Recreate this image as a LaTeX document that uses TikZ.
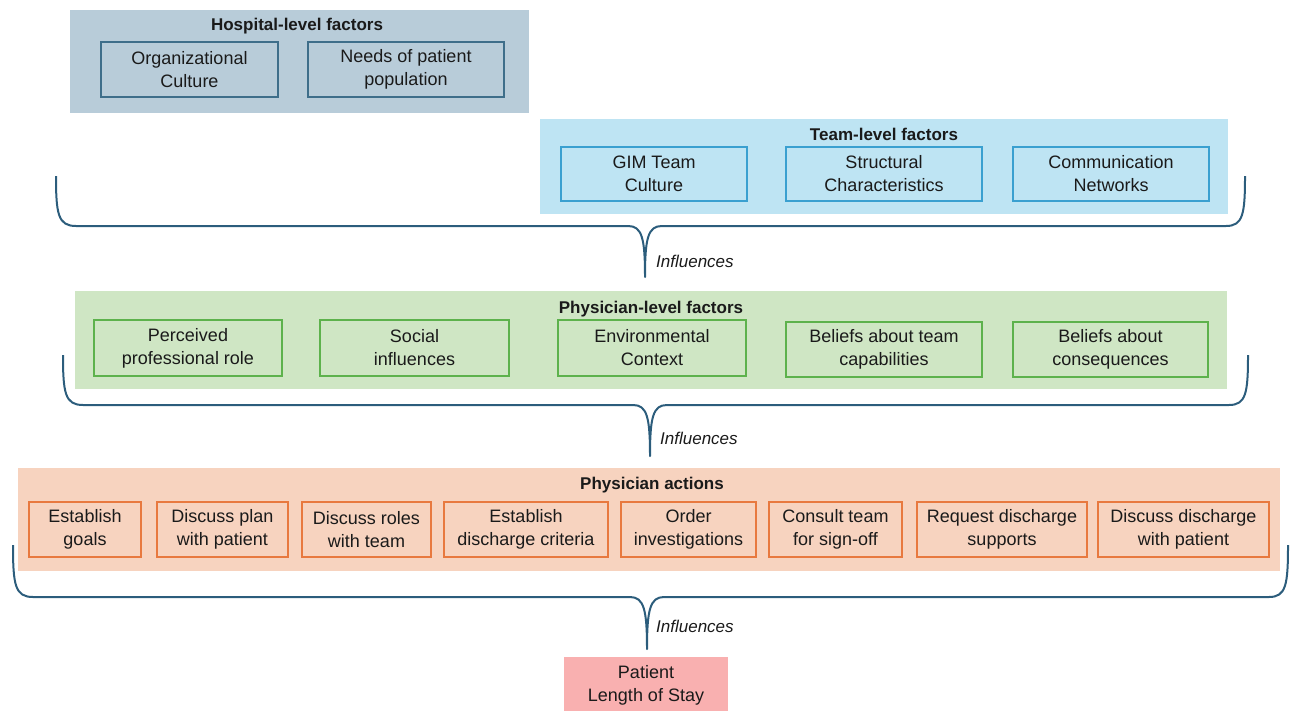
\documentclass[tikz,border=0pt]{standalone}
\usepackage{fontspec}
\setmainfont{Liberation Sans}
\definecolor{hosfill}{HTML}{B8CCD9}
\definecolor{hosline}{HTML}{3E6E8A}
\definecolor{teamfill}{HTML}{BEE4F3}
\definecolor{teamline}{HTML}{3AA0D0}
\definecolor{phyfill}{HTML}{CFE6C4}
\definecolor{phyline}{HTML}{5DB24C}
\definecolor{actfill}{HTML}{F7D3BF}
\definecolor{actline}{HTML}{E8793F}
\definecolor{losfill}{HTML}{F9B0B0}
\definecolor{bracecol}{HTML}{2C5D7C}
\definecolor{txt}{HTML}{1A1A1A}
\begin{document}
\begin{tikzpicture}[x=1pt,y=-1pt,
  every node/.style={text=txt},
  panel/.style={draw=none,inner sep=0pt},
  item/.style={draw,line width=1.2pt,inner sep=0pt,align=center,font=\fontsize{18}{23}\selectfont},
  ttl/.style={font=\fontsize{17}{20}\selectfont\bfseries,inner sep=0pt},
  infl/.style={font=\fontsize{17}{20}\selectfont\itshape,inner sep=0pt,anchor=west},
  brace/.style={draw=bracecol,line width=2pt,line join=round}]
\useasboundingbox (0,0) rectangle (1290,710);
% Hospital-level
\node[panel,fill=hosfill,minimum width=459,minimum height=103] (hos) at (299.5,61.5) {};
\node[ttl] (hosT) at (297,26) {Hospital-level factors};
\node[item,draw=hosline,minimum width=177,minimum height=55] (oc) at (189.5,69.5) {Organizational\\Culture};
\node[item,draw=hosline,minimum width=196,minimum height=55] (np) at (406,69.5) {Needs of patient\\population};
% Team-level
\node[panel,fill=teamfill,minimum width=688,minimum height=95] (team) at (884,166.5) {};
\node[ttl] (teamT) at (884,134) {Team-level factors};
\node[item,draw=teamline,minimum width=186,minimum height=54] (gim) at (654,174) {GIM Team\\Culture};
\node[item,draw=teamline,minimum width=196,minimum height=54] (sc) at (884,174) {Structural\\Characteristics};
\node[item,draw=teamline,minimum width=196,minimum height=54] (cn) at (1111,174) {Communication\\Networks};
% Brace 1
\coordinate (b1l) at (56,176);
\coordinate (b1t) at (645,277);
\coordinate (b1r) at (1245,176);
\draw[brace] (b1l) .. controls (56,214) and (58,226) .. (76,226) -- (628,226)
  .. controls (642,226) and (645,238) .. (b1t)
  .. controls (645,238) and (648,226) .. (662,226) -- (1226,226)
  .. controls (1243,226) and (1245,214) .. (b1r);
\node[infl] (inf1) at (656,261) {Influences};
% Physician-level
\node[panel,fill=phyfill,minimum width=1152,minimum height=98] (phy) at (651,340) {};
\node[ttl] (phyT) at (651,309) {Physician-level factors};
\node[item,draw=phyline,minimum width=188,minimum height=56] (ppr) at (188,348) {Perceived\\professional role};
\node[item,draw=phyline,minimum width=189,minimum height=56] (si) at (414.5,348) {Social\\influences};
\node[item,draw=phyline,minimum width=188,minimum height=56] (ec) at (652,348) {Environmental\\Context};
\node[item,draw=phyline,minimum width=196,minimum height=55] (btc) at (884,349.5) {Beliefs about team\\capabilities};
\node[item,draw=phyline,minimum width=195,minimum height=55] (bc) at (1110.5,349.5) {Beliefs about\\consequences};
% Brace 2
\coordinate (b2l) at (63,355);
\coordinate (b2t) at (650,456);
\coordinate (b2r) at (1248,355);
\draw[brace] (b2l) .. controls (63,393) and (65,405) .. (83,405) -- (633,405)
  .. controls (647,405) and (650,417) .. (b2t)
  .. controls (650,417) and (653,405) .. (667,405) -- (1229,405)
  .. controls (1246,405) and (1248,393) .. (b2r);
\node[infl] (inf2) at (660,438) {Influences};
% Physician actions
\node[panel,fill=actfill,minimum width=1262,minimum height=103] (act) at (649,519.5) {};
\node[ttl] (actT) at (652,485) {Physician actions};
\node[item,draw=actline,minimum width=112,minimum height=55] (eg) at (85,529.5) {Establish\\goals};
\node[item,draw=actline,minimum width=131,minimum height=55] (dp) at (222.5,529.5) {Discuss plan\\with patient};
\node[item,draw=actline,minimum width=129,minimum height=55] (dr) at (366.5,529.5) {Discuss roles\\with team};
\node[item,draw=actline,minimum width=164,minimum height=55] (edc) at (526,529.5) {Establish\\discharge criteria};
\node[item,draw=actline,minimum width=135,minimum height=55] (oi) at (688.5,529.5) {Order\\investigations};
\node[item,draw=actline,minimum width=133,minimum height=55] (ct) at (835.5,529.5) {Consult team\\for sign-off};
\node[item,draw=actline,minimum width=170,minimum height=55] (rds) at (1002,529.5) {Request discharge\\supports};
\node[item,draw=actline,minimum width=171,minimum height=55] (ddp) at (1183.5,529.5) {Discuss discharge\\with patient};
% Brace 3
\coordinate (b3l) at (13,545);
\coordinate (b3t) at (647,649);
\coordinate (b3r) at (1288,545);
\draw[brace] (b3l) .. controls (13,585) and (15,597) .. (33,597) -- (630,597)
  .. controls (644,597) and (647,610) .. (b3t)
  .. controls (647,610) and (650,597) .. (664,597) -- (1269,597)
  .. controls (1286,597) and (1288,585) .. (b3r);
\node[infl] (inf3) at (656,626) {Influences};
% Outcome
\node[item,draw=none,fill=losfill,minimum width=164,minimum height=56] (los) at (646,685) {Patient\\Length of Stay};
\end{tikzpicture}
\end{document}
